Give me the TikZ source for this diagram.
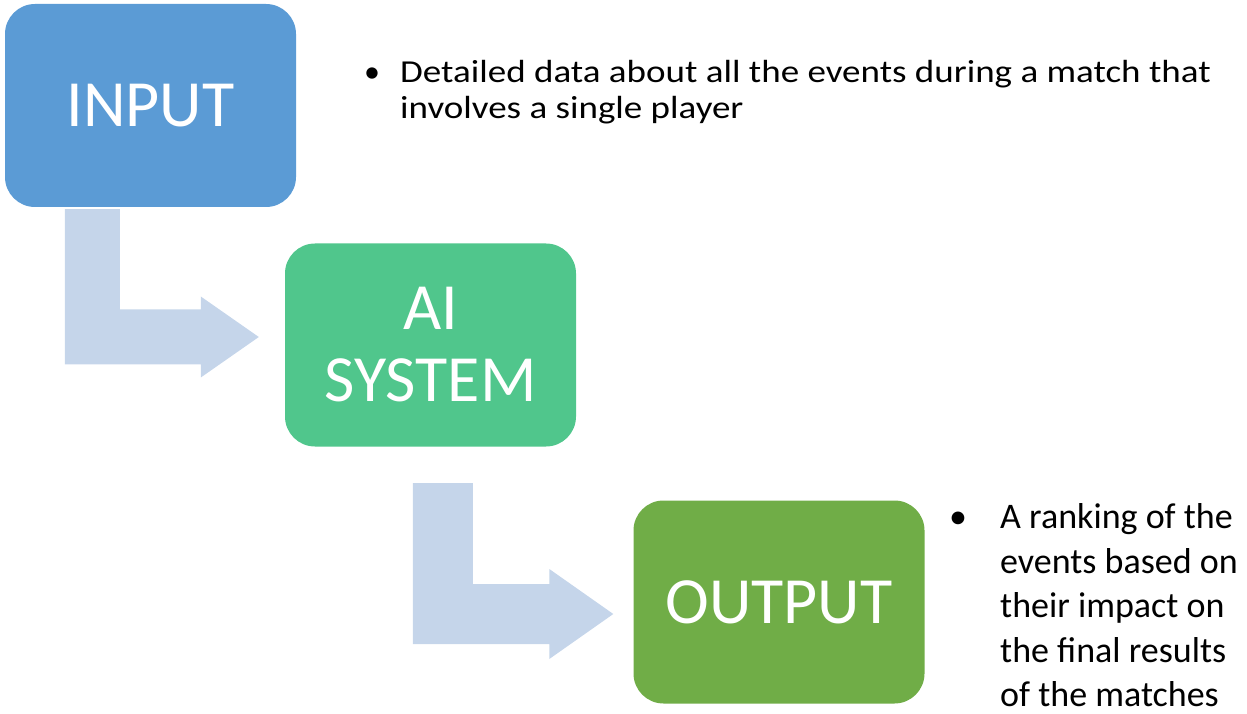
\documentclass[tikz,border=0pt]{standalone}
\usepackage{fontspec}
\setmainfont{Carlito}
\usetikzlibrary{calc}

\definecolor{inblue}{HTML}{5B9BD5}
\definecolor{aigreen}{HTML}{50C68C}
\definecolor{outgreen}{HTML}{70AD47}
\definecolor{flowfill}{HTML}{C5D5EA}

\tikzset{
  stagebox/.style={rounded corners=30pt, minimum width=291pt, minimum height=203pt,
    inner sep=0pt, text=white, align=center, font=\fontsize{66}{72}\selectfont},
  noteline/.style={anchor=base west, inner sep=0pt},
  notedot/.style={anchor=base, inner sep=0pt},
  smallnote/.style={font=\fontsize{32}{36}\selectfont},
  bignote/.style={font=\fontsize{36}{44.5}\selectfont},
  flowarrow/.style={fill=flowfill, draw=none}
}

% the input description is set in a horizontally widened face
\newcommand{\widetext}[1]{\scalebox{1.157}[1]{#1}}

% bent block arrow: #1 start of the stem (top), #2 tip, #3 half stem width,
% #4 head length, #5 half head height
\newcommand{\bentflow}[5]{%
  \fill[flowarrow] let \p1=(#1), \p2=(#2) in
    (\x1-#3,\y1) -- (\x1+#3,\y1) -- (\x1+#3,\y2+#3) -- (\x2-#4,\y2+#3)
    -- (\x2-#4,\y2+#5) -- (\p2) -- (\x2-#4,\y2-#5) -- (\x2-#4,\y2-#3)
    -- (\x1-#3,\y2-#3) -- cycle;}

\begin{document}
\begin{tikzpicture}[x=1pt,y=1pt]
  \useasboundingbox (0,0) rectangle (1247,713);

  % the three stages
  \node[stagebox, fill=inblue]   (in)  at (150.5,607.5) {INPUT};
  \node[stagebox, fill=aigreen]  (ai)  at (430.5,368)   {AI\\SYSTEM};
  \node[stagebox, fill=outgreen] (out) at (779,111)     {OUTPUT};

  % arrows between stages
  \coordinate (a1s) at ($(in.south west)+(87.5,-2)$);
  \coordinate (a1t) at ($(ai.west)+(-26,8)$);
  \coordinate (a2s) at ($(ai.south west)+(158,-36.5)$);
  \coordinate (a2t) at ($(out.west)+(-20,-12)$);
  \bentflow{a1s}{a1t}{27.5pt}{58pt}{40.5pt}
  \bentflow{a2s}{a2t}{30pt}{64pt}{45pt}

  % input description
  \node[notedot, smallnote] (indot) at (372,630) {•};
  \node[noteline, smallnote] (inl1) at (400,630) {\widetext{Detailed data about all the events during a match that}};
  \node[noteline, smallnote] (inl2) at (400,594.5) {\widetext{involves a single player}};

  % output description
  \node[notedot, bignote] (outdot) at (958,185) {•};
  \node[noteline, bignote] (outl1) at (1000,185) {A ranking of the};
  \node[noteline, bignote] (outl2) at (1000,140) {events based on};
  \node[noteline, bignote] (outl3) at (1000,96)  {their impact on};
  \node[noteline, bignote] (outl4) at (1000,51)  {the final results};
  \node[noteline, bignote] (outl5) at (1000,7)   {of the matches};
\end{tikzpicture}
\end{document}
